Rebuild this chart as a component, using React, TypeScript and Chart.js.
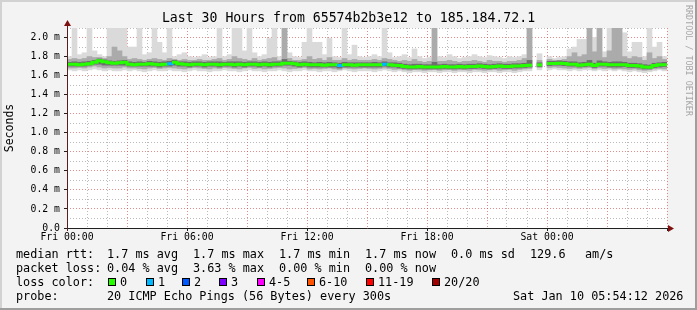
import React, { useEffect, useRef } from "react";
import { Chart, registerables } from "chart.js";

Chart.register(...registerables);

const MONO = '"DejaVu Sans Mono", "Liberation Mono", monospace';

// 30 hours from Fri 00:00, one bin = 15 minutes (120 bins)
const BIN_HOURS = 0.25;

// median rtt per bin (ms); null = no data
const medianRtt = [
  1.72, 1.72, 1.715, 1.72, 1.725, 1.74, 1.755, 1.745, 1.735, 1.73,
  1.735, 1.74, 1.72, 1.715, 1.72, 1.72, 1.725, 1.72, 1.715, 1.72,
  1.725, 1.74, 1.725, 1.72, 1.715, 1.72, 1.72, 1.715, 1.72, 1.72,
  1.715, 1.72, 1.72, 1.715, 1.72, 1.715, 1.72, 1.72, 1.715, 1.72,
  1.715, 1.72, 1.72, 1.73, 1.73, 1.725, 1.715, 1.72, 1.713, 1.713,
  1.715, 1.71, 1.713, 1.713, 1.705, 1.713, 1.713, 1.71, 1.713, 1.713,
  1.713, 1.715, 1.713, 1.72, 1.713, 1.71, 1.705, 1.695, 1.69, 1.69,
  1.695, 1.69, 1.69, 1.69, 1.69, 1.695, 1.69, 1.69, 1.695, 1.69,
  1.695, 1.695, 1.7, 1.695, 1.69, 1.695, 1.7, 1.695, 1.695, 1.7,
  1.7, 1.705, 1.71, null, 1.713, null, 1.726, 1.728, 1.73, 1.726,
  1.72, 1.72, 1.71, 1.715, 1.72, 1.705, 1.72, 1.72, 1.713, 1.713,
  1.713, 1.715, 1.705, 1.705, 1.7, 1.69, 1.688, 1.705, 1.713, 1.715,
];

// smoke: outer (light) range
const smokeLightLo = [
  1.66, 1.65, 1.66, 1.65, 1.66, 1.67, 1.66, 1.65, 1.66, 1.65,
  1.65, 1.66, 1.65, 1.66, 1.65, 1.64, 1.65, 1.66, 1.65, 1.65,
  1.66, 1.65, 1.65, 1.64, 1.65, 1.66, 1.65, 1.65, 1.64, 1.65,
  1.65, 1.66, 1.65, 1.65, 1.64, 1.65, 1.66, 1.65, 1.65, 1.64,
  1.65, 1.65, 1.66, 1.65, 1.64, 1.65, 1.65, 1.66, 1.65, 1.65,
  1.64, 1.65, 1.65, 1.64, 1.65, 1.66, 1.65, 1.64, 1.65, 1.65,
  1.65, 1.64, 1.65, 1.66, 1.65, 1.64, 1.65, 1.64, 1.63, 1.64,
  1.64, 1.63, 1.64, 1.64, 1.63, 1.64, 1.64, 1.63, 1.64, 1.64,
  1.63, 1.64, 1.64, 1.63, 1.64, 1.64, 1.63, 1.64, 1.64, 1.63,
  1.64, 1.65, 1.65, null, 1.66, null, 1.66, 1.67, 1.66, 1.66,
  1.65, 1.66, 1.65, 1.66, 1.66, 1.65, 1.66, 1.65, 1.66, 1.65,
  1.66, 1.65, 1.64, 1.65, 1.64, 1.63, 1.64, 1.65, 1.66, 1.65,
];
const smokeLightHi = [
  1.80, 2.10, 1.82, 1.84, 2.10, 1.86, 1.82, 1.80, 2.10, 2.10,
  2.10, 2.10, 1.90, 1.90, 2.10, 1.82, 1.84, 2.10, 1.95, 1.84,
  2.10, 1.80, 1.82, 1.84, 1.80, 1.79, 1.80, 1.82, 1.79, 1.80,
  2.10, 1.80, 1.82, 2.10, 2.10, 1.86, 2.10, 1.84, 1.80, 1.82,
  1.99, 2.10, 1.80, 2.10, 1.84, 1.80, 1.79, 1.95, 2.10, 1.95,
  1.95, 1.82, 1.99, 1.80, 1.79, 2.10, 1.82, 1.92, 1.80, 1.79,
  1.80, 1.82, 1.80, 2.10, 1.84, 1.79, 1.80, 1.82, 1.79, 1.88,
  1.80, 1.78, 1.79, 2.10, 1.80, 1.79, 1.82, 1.80, 1.78, 1.79,
  1.80, 1.82, 1.80, 1.79, 1.81, 1.80, 1.79, 1.78, 1.80, 1.79,
  1.80, 1.82, 2.10, null, 1.83, null, 1.80, 1.78, 1.79, 1.80,
  1.88, 1.90, 1.98, 1.98, 2.10, 2.00, 2.10, 1.85, 2.10, 2.10,
  2.10, 2.05, 1.85, 1.95, 1.95, 1.80, 2.10, 1.90, 1.95, 1.80,
];

// smoke: middle range
const smokeMidLo = [
  1.68, 1.68, 1.685, 1.68, 1.69, 1.70, 1.69, 1.68, 1.685, 1.68,
  1.68, 1.69, 1.68, 1.68, 1.675, 1.67, 1.68, 1.685, 1.675, 1.68,
  1.685, 1.68, 1.675, 1.67, 1.68, 1.685, 1.68, 1.675, 1.67, 1.68,
  1.675, 1.685, 1.68, 1.675, 1.67, 1.68, 1.685, 1.675, 1.68, 1.67,
  1.675, 1.68, 1.685, 1.68, 1.67, 1.675, 1.68, 1.685, 1.67, 1.675,
  1.67, 1.675, 1.68, 1.67, 1.665, 1.68, 1.675, 1.67, 1.675, 1.68,
  1.675, 1.67, 1.675, 1.68, 1.675, 1.665, 1.67, 1.66, 1.655, 1.665,
  1.66, 1.655, 1.66, 1.665, 1.655, 1.66, 1.665, 1.655, 1.66, 1.66,
  1.655, 1.665, 1.66, 1.655, 1.66, 1.665, 1.655, 1.66, 1.665, 1.655,
  1.665, 1.67, 1.675, null, 1.685, null, 1.685, 1.69, 1.685, 1.68,
  1.675, 1.68, 1.675, 1.68, 1.685, 1.67, 1.68, 1.675, 1.68, 1.67,
  1.675, 1.67, 1.665, 1.67, 1.66, 1.655, 1.66, 1.67, 1.675, 1.67,
];
const smokeMidHi = [
  1.77, 1.78, 1.77, 1.78, 1.80, 1.79, 1.79, 1.78, 1.80, 1.90,
  1.86, 1.80, 1.77, 1.78, 1.77, 1.76, 1.77, 1.78, 1.77, 1.76,
  1.78, 1.77, 1.76, 1.77, 1.76, 1.76, 1.77, 1.76, 1.76, 1.77,
  1.78, 1.76, 1.77, 1.80, 1.78, 1.77, 1.76, 1.78, 1.76, 1.77,
  1.78, 1.79, 1.76, 2.10, 1.78, 1.76, 1.76, 1.77, 1.80, 1.77,
  1.78, 1.76, 1.79, 1.76, 1.76, 1.78, 1.76, 1.77, 1.76, 1.76,
  1.76, 1.77, 1.76, 1.78, 1.77, 1.76, 1.75, 1.76, 1.75, 1.77,
  1.75, 1.74, 1.75, 2.10, 1.75, 1.75, 1.76, 1.75, 1.74, 1.75,
  1.75, 1.76, 1.75, 1.74, 1.76, 1.75, 1.75, 1.74, 1.75, 1.75,
  1.76, 1.78, 2.10, null, 1.76, null, 1.77, 1.76, 1.76, 1.77,
  1.80, 1.84, 1.80, 1.82, 2.10, 1.85, 2.10, 1.79, 1.86, 2.10,
  2.10, 1.80, 1.78, 1.80, 1.79, 1.76, 1.84, 1.78, 1.80, 1.77,
];

// smoke: inner (dark) range
const smokeDarkLo = [
  1.70, 1.70, 1.70, 1.70, 1.71, 1.72, 1.72, 1.71, 1.71, 1.71,
  1.71, 1.71, 1.70, 1.70, 1.70, 1.70, 1.70, 1.70, 1.69, 1.70,
  1.70, 1.71, 1.70, 1.70, 1.69, 1.70, 1.70, 1.69, 1.70, 1.70,
  1.69, 1.70, 1.70, 1.69, 1.70, 1.69, 1.70, 1.70, 1.69, 1.70,
  1.69, 1.70, 1.70, 1.71, 1.71, 1.70, 1.69, 1.70, 1.69, 1.69,
  1.69, 1.69, 1.69, 1.69, 1.68, 1.69, 1.69, 1.69, 1.69, 1.69,
  1.69, 1.69, 1.69, 1.70, 1.69, 1.69, 1.68, 1.675, 1.67, 1.67,
  1.675, 1.67, 1.67, 1.67, 1.67, 1.675, 1.67, 1.67, 1.675, 1.67,
  1.675, 1.675, 1.68, 1.675, 1.67, 1.675, 1.68, 1.675, 1.675, 1.68,
  1.68, 1.685, 1.69, null, 1.695, null, 1.705, 1.71, 1.71, 1.705,
  1.70, 1.70, 1.69, 1.695, 1.70, 1.685, 1.70, 1.70, 1.69, 1.69,
  1.69, 1.695, 1.685, 1.685, 1.68, 1.67, 1.67, 1.685, 1.69, 1.695,
];
const smokeDarkHi = [
  1.74, 1.745, 1.74, 1.745, 1.75, 1.76, 1.775, 1.765, 1.755, 1.75,
  1.755, 1.76, 1.745, 1.74, 1.745, 1.74, 1.75, 1.745, 1.74, 1.745,
  1.75, 1.76, 1.745, 1.745, 1.74, 1.745, 1.745, 1.74, 1.745, 1.745,
  1.745, 1.74, 1.745, 1.745, 1.745, 1.74, 1.745, 1.745, 1.74, 1.745,
  1.74, 1.745, 1.745, 1.77, 1.75, 1.745, 1.74, 1.745, 1.74, 1.735,
  1.74, 1.735, 1.74, 1.735, 1.73, 1.74, 1.735, 1.735, 1.735, 1.735,
  1.735, 1.74, 1.735, 1.745, 1.735, 1.735, 1.73, 1.72, 1.715, 1.72,
  1.72, 1.715, 1.715, 1.74, 1.715, 1.72, 1.715, 1.715, 1.72, 1.715,
  1.72, 1.72, 1.725, 1.72, 1.715, 1.72, 1.725, 1.72, 1.72, 1.725,
  1.725, 1.73, 1.76, null, 1.735, null, 1.75, 1.75, 1.755, 1.75,
  1.745, 1.745, 1.735, 1.74, 1.76, 1.73, 1.755, 1.745, 1.74, 1.745,
  1.745, 1.74, 1.73, 1.73, 1.725, 1.715, 1.71, 1.73, 1.735, 1.74,
];

// bins with packet loss (pings lost out of 20)
const lossBins = [20, 54, 63];
const lossPings = [1, 1, 1];

const lossColors = ["#26ff00", "#00b8ff", "#0059ff", "#7e00ff", "#ff00ff", "#ff5500", "#ff0000", "#a00000"];
const lossLabels = ["0", "1", "2", "3", "4-5", "6-10", "11-19", "20/20"];
const lossSwatchX = [108, 146, 182, 219, 257, 307, 366, 432];

const xTickHours = [0, 6, 12, 18, 24];
const xTickLabels = ["Fri 00:00", "Fri 06:00", "Fri 12:00", "Fri 18:00", "Sat 00:00"];
const yTickValues = [0, 0.2, 0.4, 0.6, 0.8, 1.0, 1.2, 1.4, 1.6, 1.8, 2.0];
const yTickLabels = ["0.0", "0.2 m", "0.4 m", "0.6 m", "0.8 m", "1.0 m", "1.2 m", "1.4 m", "1.6 m", "1.8 m", "2.0 m"];

const TITLE = "Last 30 Hours from 65574b2b3e12 to 185.184.72.1";

const MGRID = "rgba(215,60,60,0.6)";
const GRID = "rgba(140,140,140,0.6)";

function lossColorIndex(pings: number): number {
  if (pings <= 0) return 0;
  if (pings === 1) return 1;
  if (pings === 2) return 2;
  if (pings === 3) return 3;
  if (pings <= 5) return 4;
  if (pings <= 10) return 5;
  if (pings <= 19) return 6;
  return 7;
}

function binColor(bin: number): string {
  const k = lossBins.indexOf(bin);
  return lossColors[lossColorIndex(k >= 0 ? lossPings[k] : 0)];
}

function band(lo: (number | null)[], hi: (number | null)[]) {
  const out: { x: number; y: [number, number] }[] = [];
  lo.forEach((l, i) => {
    const h = hi[i];
    if (l == null || h == null) return;
    out.push({ x: (i + 0.5) * BIN_HOURS, y: [l, h] });
  });
  return out;
}

function medianSteps() {
  const pts: { x: number; y: number | null }[] = [];
  medianRtt.forEach((v, i) => {
    pts.push({ x: i * BIN_HOURS, y: v });
    pts.push({ x: (i + 1) * BIN_HOURS, y: v });
  });
  return pts;
}

const xGridHours: number[] = [];
for (let h = 0; h <= 30; h++) xGridHours.push(h);
const yGridValues: number[] = [];
for (let k = 0; k <= 21; k++) yGridValues.push(k / 10);

const plotBgAndAxes = {
  id: "plotBgAndAxes",
  beforeDraw(chart: any) {
    const { ctx, chartArea: a } = chart;
    ctx.save();
    ctx.fillStyle = "#ffffff";
    ctx.fillRect(a.left, a.top, a.right - a.left, a.bottom - a.top);
    ctx.restore();
  },
  afterDraw(chart: any) {
    const { ctx, chartArea: a } = chart;
    ctx.save();
    ctx.lineWidth = 1;
    // x axis
    ctx.strokeStyle = "#202020";
    ctx.beginPath();
    ctx.moveTo(a.left - 3, Math.round(a.bottom) + 0.5);
    ctx.lineTo(a.right + 4, Math.round(a.bottom) + 0.5);
    ctx.stroke();
    // y axis
    ctx.strokeStyle = "#5a1e1e";
    ctx.beginPath();
    ctx.moveTo(Math.round(a.left) + 0.5, a.bottom + 3);
    ctx.lineTo(Math.round(a.left) + 0.5, a.top - 4);
    ctx.stroke();
    // arrows
    ctx.fillStyle = "#7f1010";
    const bx = Math.round(a.right) + 1;
    const by = Math.round(a.bottom) + 0.5;
    ctx.beginPath();
    ctx.moveTo(bx, by - 3.5);
    ctx.lineTo(bx + 6, by);
    ctx.lineTo(bx, by + 3.5);
    ctx.closePath();
    ctx.fill();
    const tx = Math.round(a.left) + 0.5;
    const ty = Math.round(a.top) - 2;
    ctx.beginPath();
    ctx.moveTo(tx - 3.5, ty);
    ctx.lineTo(tx, ty - 6);
    ctx.lineTo(tx + 3.5, ty);
    ctx.closePath();
    ctx.fill();
    ctx.restore();
  },
};

function T(props: { x: number; y: number; children: React.ReactNode; size?: number; color?: string }) {
  return (
    <div
      style={{
        position: "absolute",
        left: props.x,
        top: props.y,
        whiteSpace: "pre",
        fontFamily: MONO,
        fontSize: props.size ?? 11.8,
        lineHeight: "14px",
        color: props.color ?? "#000",
      }}
    >
      {props.children}
    </div>
  );
}

export default function App() {
  const ref = useRef<HTMLCanvasElement>(null);

  useEffect(() => {
    if (!ref.current) return;
    const barCommon = {
      type: "bar" as const,
      grouped: false,
      barPercentage: 1,
      categoryPercentage: 1,
      borderWidth: 0,
      borderSkipped: false,
    };
    const chart = new Chart(ref.current, {
      type: "bar",
      data: {
        datasets: [
          { ...barCommon, data: band(smokeLightLo, smokeLightHi) as any, backgroundColor: "#dadada", order: 3 },
          { ...barCommon, data: band(smokeMidLo, smokeMidHi) as any, backgroundColor: "#ababab", order: 2 },
          { ...barCommon, data: band(smokeDarkLo, smokeDarkHi) as any, backgroundColor: "#6e6e6e", order: 1 },
          {
            type: "line",
            data: medianSteps() as any,
            borderColor: lossColors[0],
            borderWidth: 3,
            pointRadius: 0,
            spanGaps: false,
            tension: 0,
            borderCapStyle: "butt",
            order: 0,
            segment: {
              borderColor: (c: any) => binColor(Math.floor(c.p0DataIndex / 2)),
            },
          } as any,
        ],
      },
      options: {
        responsive: false,
        maintainAspectRatio: false,
        animation: false,
        events: [],
        layout: { padding: { left: 0, top: 28, right: 30, bottom: 0 } },
        plugins: { legend: { display: false }, title: { display: false }, tooltip: { enabled: false } },
        scales: {
          x: {
            type: "linear",
            min: 0,
            max: 30,
            offset: false,
            afterBuildTicks: (s: any) => {
              s.ticks = xGridHours.map((v) => ({ value: v }));
            },
            afterFit: (s: any) => {
              s.height = 82;
            },
            grid: {
              offset: false,
              lineWidth: 1,
              color: (c: any) => (c.tick && Math.round(c.tick.value) % 3 === 0 ? MGRID : GRID),
              drawTicks: true,
              tickLength: 3,
              tickWidth: 1,
              tickColor: (c: any) => (c.tick && Math.round(c.tick.value) % 6 === 0 ? "#202020" : "rgba(0,0,0,0)"),
              tickBorderDash: [],
            } as any,
            border: { display: false, dash: [1, 2] },
            ticks: {
              autoSkip: false,
              maxRotation: 0,
              minRotation: 0,
              padding: 1,
              color: "#000",
              font: { family: MONO, size: 9.8 },
              callback: (v: any) => {
                const k = xTickHours.indexOf(Math.round(Number(v) * 1000) / 1000);
                return k >= 0 ? xTickLabels[k] : "";
              },
            },
          },
          y: {
            type: "linear",
            min: 0,
            max: 2.1,
            afterBuildTicks: (s: any) => {
              s.ticks = yGridValues.map((v) => ({ value: v }));
            },
            afterFit: (s: any) => {
              s.width = 67;
            },
            grid: {
              lineWidth: 1,
              color: (c: any) => (c.tick && Math.round(c.tick.value * 10) % 2 === 0 ? MGRID : GRID),
              drawTicks: true,
              tickLength: 3,
              tickWidth: 1,
              tickColor: (c: any) =>
                c.tick && Math.round(c.tick.value * 10) % 2 === 0 && c.tick.value < 2.05 ? "#202020" : "rgba(0,0,0,0)",
              tickBorderDash: [],
            } as any,
            border: { display: false, dash: [1, 2] },
            ticks: {
              autoSkip: false,
              padding: 4,
              color: "#000",
              font: { family: MONO, size: 9.8 },
              callback: (v: any) => {
                const n = Number(v);
                const k = yTickValues.findIndex((t) => Math.abs(t - n) < 1e-6);
                return k >= 0 ? yTickLabels[k] : "";
              },
            },
            title: {
              display: true,
              text: "Seconds",
              color: "#000",
              font: { family: MONO, size: 11.5 },
              padding: { top: 3, bottom: 0 },
            },
          },
        },
      } as any,
      plugins: [plotBgAndAxes],
    });
    return () => chart.destroy();
  }, []);

  return (
    <div
      style={{
        position: "absolute",
        left: 0,
        top: 0,
        width: 697,
        height: 310,
        background: "#f3f3f3",
        overflow: "hidden",
      }}
    >
      <canvas
        ref={ref}
        width={697}
        height={310}
        style={{ position: "absolute", left: 0, top: 0, width: 697, height: 310 }}
      />
      <div
        style={{
          position: "absolute",
          left: 0,
          top: 10,
          width: 697,
          textAlign: "center",
          fontFamily: MONO,
          fontSize: 13.2,
          lineHeight: "16px",
          color: "#000",
          whiteSpace: "pre",
        }}
      >
        {TITLE}
      </div>
      <div
        style={{
          position: "absolute",
          left: 684,
          top: 5,
          writingMode: "vertical-rl",
          fontFamily: MONO,
          fontSize: 8.4,
          lineHeight: "9px",
          color: "#a6a6a6",
          whiteSpace: "pre",
        }}
      >
        RRDTOOL / TOBI OETIKER
      </div>

      <T x={16} y={247}>median rtt:</T>
      <T x={107} y={247}>1.7 ms avg</T>
      <T x={193} y={247}>1.7 ms max</T>
      <T x={279} y={247}>1.7 ms min</T>
      <T x={365} y={247}>1.7 ms now</T>
      <T x={451} y={247}>0.0 ms sd</T>
      <T x={530} y={247}>129.6</T>
      <T x={585} y={247}>am/s</T>

      <T x={16} y={261}>packet loss:</T>
      <T x={107} y={261}>0.04 % avg</T>
      <T x={193} y={261}>3.63 % max</T>
      <T x={279} y={261}>0.00 % min</T>
      <T x={365} y={261}>0.00 % now</T>

      <T x={16} y={275}>loss color:</T>
      {lossLabels.map((lab, i) => (
        <React.Fragment key={lab}>
          <div
            style={{
              position: "absolute",
              left: lossSwatchX[i],
              top: 278,
              width: 8,
              height: 8,
              boxSizing: "border-box",
              border: "1px solid #000",
              background: lossColors[i],
            }}
          />
          <T x={lossSwatchX[i] + 12} y={275}>{lab}</T>
        </React.Fragment>
      ))}

      <T x={16} y={289}>probe:</T>
      <T x={107} y={289}>20 ICMP Echo Pings (56 Bytes) every 300s</T>
      <T x={513} y={289}>Sat Jan 10 05:54:12 2026</T>

      <div
        style={{
          position: "absolute",
          left: 0,
          top: 0,
          width: 697,
          height: 310,
          boxSizing: "border-box",
          boxShadow: "inset -2px -2px 0 #9e9e9e, inset 2px 2px 0 #d2d2d2",
          pointerEvents: "none",
        }}
      />
    </div>
  );
}
